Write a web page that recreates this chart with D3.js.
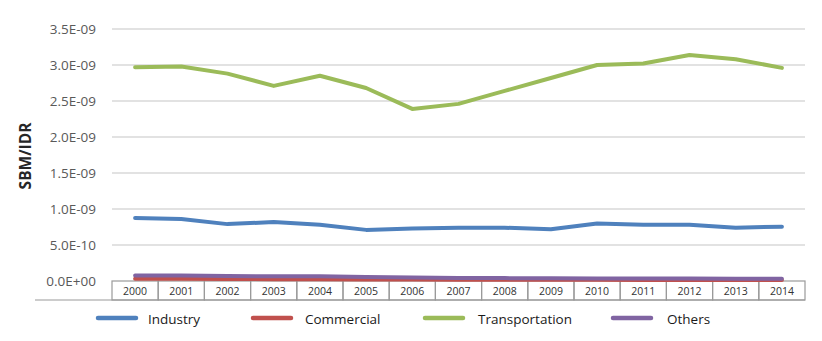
<!DOCTYPE html>
<html>
<head>
<meta charset="utf-8">
<script src="https://cdn.jsdelivr.net/npm/d3@7"></script>
<style>
  body { margin: 0; background: #fff; }
  svg { font-family: "Open Sans", sans-serif; }
</style>
</head>
<body>
<div id="chart"></div>
<script>
// data (values in E-09)
const years = ["2000", "2001", "2002", "2003", "2004", "2005", "2006", "2007",
               "2008", "2009", "2010", "2011", "2012", "2013", "2014"];
const industry = [0.875, 0.86, 0.79, 0.82, 0.78, 0.71, 0.73, 0.74, 0.74, 0.72, 0.80, 0.78, 0.78, 0.74, 0.755];
const commercial = [0.03, 0.03, 0.028, 0.026, 0.025, 0.022, 0.02, 0.018, 0.017, 0.016, 0.016, 0.015, 0.015, 0.015, 0.015];
const transportation = [2.97, 2.98, 2.88, 2.71, 2.85, 2.68, 2.39, 2.46, 2.64, 2.82, 3.0, 3.02, 3.14, 3.08, 2.96];
const others = [0.075, 0.075, 0.07, 0.065, 0.065, 0.055, 0.048, 0.042, 0.04, 0.038, 0.036, 0.034, 0.033, 0.032, 0.03];
const yTicks = [0, 0.5, 1.0, 1.5, 2.0, 2.5, 3.0, 3.5];
const yTickLabels = ["0.0E+00", "5.0E-10", "1.0E-09", "1.5E-09", "2.0E-09", "2.5E-09", "3.0E-09", "3.5E-09"];

const series = [
    { name: "Industry", values: industry, color: "#4f81bd" },
    { name: "Commercial", values: commercial, color: "#c0504d" },
    { name: "Transportation", values: transportation, color: "#9bbb59" },
    { name: "Others", values: others, color: "#8064a2" }
];

const width = 822, height = 341;
const plotLeft = 112, plotRight = 805, plotTop = 29, zeroY = 281, tableBottom = 300;

const svg = d3.select("#chart")
    .append("svg")
    .attr("width", width)
    .attr("height", height);

// scales
const xBand = d3.scaleBand().domain(years).range([plotLeft, plotRight]).padding(0);
const x = d => xBand(d) + xBand.bandwidth() / 2;
const y = d3.scaleLinear().domain([0, 3.5]).range([zeroY, plotTop]);

// gridlines
svg.append("g")
    .selectAll("line")
    .data(yTicks.slice(1))
    .enter().append("line")
    .attr("x1", plotLeft)
    .attr("x2", plotRight)
    .attr("y1", d => y(d))
    .attr("y2", d => y(d))
    .attr("stroke", "#d9d9d9")
    .attr("stroke-width", 1.5);

// y axis labels
svg.append("g")
    .selectAll("text")
    .data(yTicks)
    .enter().append("text")
    .attr("x", 96)
    .attr("y", d => y(d))
    .attr("dy", "0.35em")
    .attr("text-anchor", "end")
    .attr("fill", "#595959")
    .style("font-size", "13.5px")
    .text((d, i) => yTickLabels[i]);

// y title
svg.append("text")
    .attr("transform", `translate(31,${(plotTop + zeroY) / 2 + 1})rotate(-90)`)
    .attr("text-anchor", "middle")
    .attr("fill", "#262626")
    .style("font-size", "15.5px")
    .style("font-weight", "bold")
    .text("SBM/IDR");

// category table under the axis
const table = svg.append("g");
table.selectAll("rect")
    .data(years)
    .enter().append("rect")
    .attr("x", d => xBand(d))
    .attr("y", zeroY)
    .attr("width", xBand.bandwidth())
    .attr("height", tableBottom - zeroY)
    .attr("fill", "none")
    .attr("stroke", "#9a9a9a")
    .attr("stroke-width", 1.2);

table.append("line")
    .attr("x1", 35)
    .attr("x2", plotRight)
    .attr("y1", tableBottom)
    .attr("y2", tableBottom)
    .attr("stroke", "#9a9a9a")
    .attr("stroke-width", 1.2);

table.selectAll("text")
    .data(years)
    .enter().append("text")
    .attr("x", d => x(d))
    .attr("y", (zeroY + tableBottom) / 2 + 1)
    .attr("dy", "0.35em")
    .attr("text-anchor", "middle")
    .attr("fill", "#333")
    .style("font-size", "10.5px")
    .text(d => d);

// lines
const line = d3.line()
    .x((d, i) => x(years[i]))
    .y(d => y(d));

svg.append("g")
    .selectAll("path")
    .data(series)
    .enter().append("path")
    .attr("d", d => line(d.values))
    .attr("fill", "none")
    .attr("stroke", d => d.color)
    .attr("stroke-width", 4)
    .attr("stroke-linejoin", "round")
    .attr("stroke-linecap", "round");

// legend
const legendX = [98, 253, 425, 613];
const legend = svg.append("g");
legend.selectAll("line")
    .data(series)
    .enter().append("line")
    .attr("x1", (d, i) => legendX[i])
    .attr("x2", (d, i) => legendX[i] + 38)
    .attr("y1", 318)
    .attr("y2", 318)
    .attr("stroke", d => d.color)
    .attr("stroke-width", 4.5)
    .attr("stroke-linecap", "round");

legend.selectAll("text")
    .data(series)
    .enter().append("text")
    .attr("x", (d, i) => legendX[i] + [50, 52, 53, 54][i])
    .attr("y", 319)
    .attr("dy", "0.35em")
    .attr("fill", "#1a1a1a")
    .style("font-size", "13.5px")
    .text(d => d.name);
</script>
</body>
</html>
